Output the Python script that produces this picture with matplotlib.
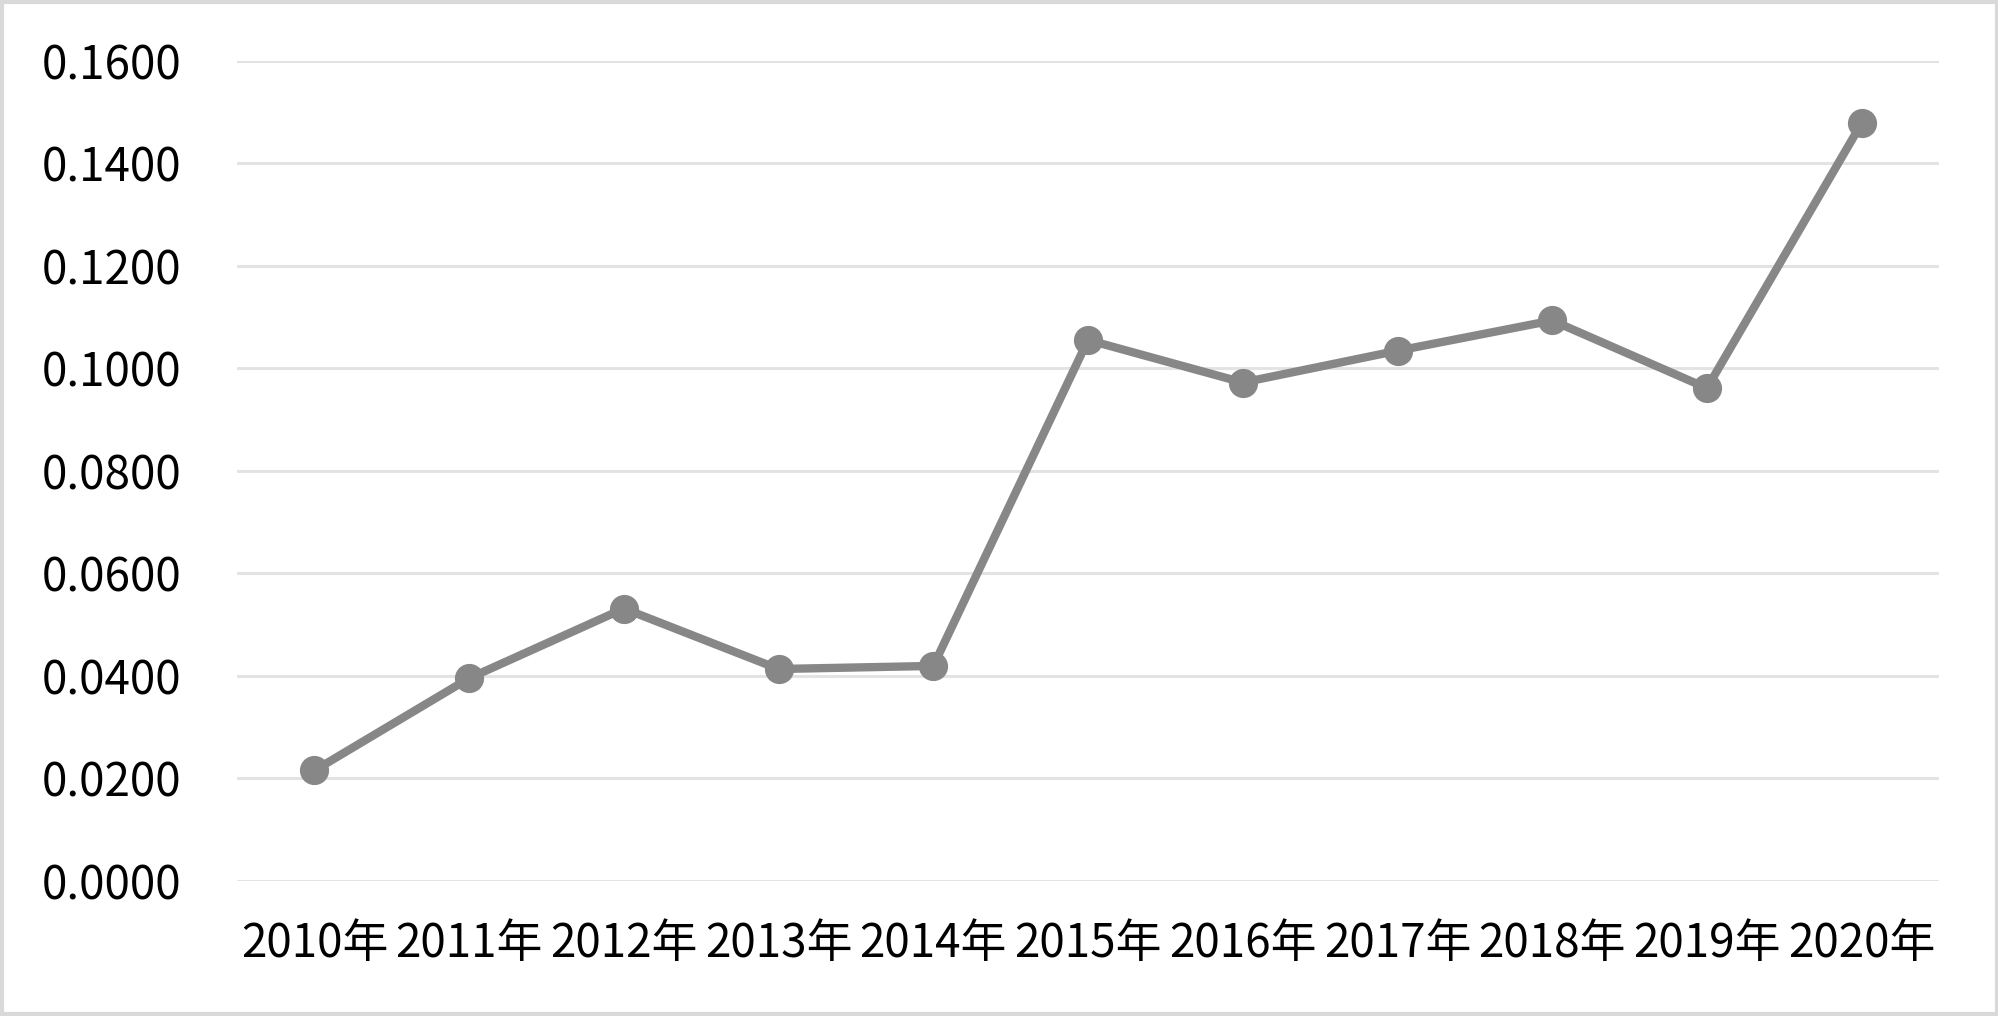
import matplotlib
matplotlib.use("Agg")
import matplotlib.pyplot as plt
from matplotlib.patches import Rectangle

plt.rcParams["font.family"] = ["Noto Sans CJK SC", "DejaVu Sans"]

# -- data ------------------------------------------------------------------
years = ["2010年", "2011年", "2012年", "2013年", "2014年", "2015年",
         "2016年", "2017年", "2018年", "2019年", "2020年"]
values = [0.0215, 0.0395, 0.0531, 0.0413, 0.0419, 0.1055,
          0.0972, 0.1034, 0.1093, 0.0961, 0.1478]
y_ticks = [0.0, 0.02, 0.04, 0.06, 0.08, 0.10, 0.12, 0.14, 0.16]

LINE = "#878787"
GRID = "#e3e3e3"


def main():
    fig = plt.figure(figsize=(19.99, 10.16), dpi=100)
    ax = fig.add_axes([0.1186, 0.1332, 0.8514, 0.8071])

    x = list(range(len(years)))
    ax.plot(x, values, color=LINE, lw=6, marker="o", ms=20,
            markerfacecolor=LINE, markeredgecolor=LINE, zorder=3,
            solid_joinstyle="round")

    ax.set_xlim(-0.5, len(years) - 0.5)
    ax.set_ylim(0, 0.16)
    ax.set_yticks(y_ticks)
    ax.set_yticklabels([f"{v:.4f}" for v in y_ticks])
    ax.set_xticks(x)
    ax.set_xticklabels(years)

    ax.grid(axis="y", color=GRID, lw=2.2)
    ax.set_axisbelow(True)
    for s in ax.spines.values():
        s.set_visible(False)
    ax.tick_params(axis="both", length=0, labelsize=33, colors="black")
    ax.tick_params(axis="y", pad=40)
    ax.tick_params(axis="x", pad=28)

    # light outer frame like the spreadsheet chart area
    fig.patches.append(Rectangle((0.001, 0.002), 0.998, 0.996,
                                 transform=fig.transFigure, fill=False,
                                 edgecolor="#d9d9d9", lw=3))

    fig.savefig("out.png", dpi=100)
    plt.close(fig)


if __name__ == "__main__":
    main()
